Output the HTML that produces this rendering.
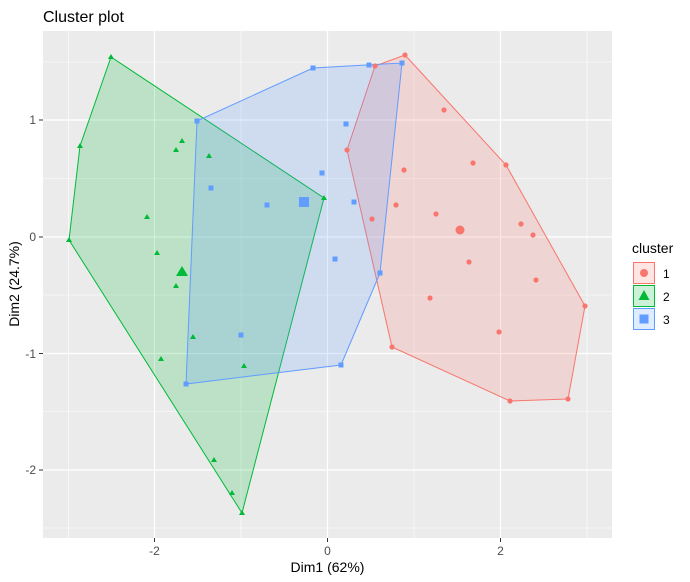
<!DOCTYPE html>
<html><head><meta charset="utf-8"><style>body{margin:0;background:#fff}svg{display:block;font-family:"Liberation Sans",Arial,sans-serif}</style></head><body>
<svg width="690" height="582" viewBox="0 0 690 582">
<rect width="690" height="582" fill="#fff"/>
<text x="43" y="22" font-size="16" fill="#000">Cluster plot</text>
<rect x="43" y="31" width="569" height="507" fill="#EBEBEB"/>
<g stroke="#fff" stroke-width="0.6">
<line x1="68.5" x2="68.5" y1="31" y2="538"/><line x1="241" x2="241" y1="31" y2="538"/><line x1="414" x2="414" y1="31" y2="538"/><line x1="587" x2="587" y1="31" y2="538"/>
<line x1="43" x2="612" y1="62" y2="62"/><line x1="43" x2="612" y1="178.5" y2="178.5"/><line x1="43" x2="612" y1="295" y2="295"/><line x1="43" x2="612" y1="411.5" y2="411.5"/><line x1="43" x2="612" y1="528" y2="528"/>
</g>
<g stroke="#fff" stroke-width="1.2">
<line x1="154.5" x2="154.5" y1="31" y2="538"/><line x1="327.5" x2="327.5" y1="31" y2="538"/><line x1="500.5" x2="500.5" y1="31" y2="538"/>
<line x1="43" x2="612" y1="120" y2="120"/><line x1="43" x2="612" y1="237" y2="237"/><line x1="43" x2="612" y1="353.5" y2="353.5"/><line x1="43" x2="612" y1="470" y2="470"/>
</g>
<polygon points="347,150 375,66 405,55 506,165 585,306 568,399 510,401 392,347" fill="#F8766D" fill-opacity="0.2" stroke="#F8766D"/>
<polygon points="111,57 80,146 69,240 242,513 324,198" fill="#00BA38" fill-opacity="0.2" stroke="#00BA38"/>
<polygon points="197,121 313,68 402,63 380,273 341,365 186,384" fill="#619CFF" fill-opacity="0.2" stroke="#619CFF"/>
<g fill="#F8766D">
<circle cx="375" cy="66" r="2.6"/><circle cx="405" cy="55" r="2.6"/><circle cx="444" cy="110" r="2.6"/><circle cx="473" cy="163" r="2.6"/><circle cx="506" cy="165" r="2.6"/><circle cx="436" cy="214" r="2.6"/><circle cx="404" cy="170" r="2.6"/><circle cx="396" cy="205" r="2.6"/><circle cx="372" cy="219" r="2.6"/><circle cx="521" cy="224" r="2.6"/><circle cx="533" cy="235" r="2.6"/><circle cx="469" cy="262" r="2.6"/><circle cx="430" cy="298" r="2.6"/><circle cx="499" cy="332" r="2.6"/><circle cx="536" cy="280" r="2.6"/><circle cx="392" cy="347" r="2.6"/><circle cx="510" cy="401" r="2.6"/><circle cx="568" cy="399" r="2.6"/><circle cx="585" cy="306" r="2.6"/><circle cx="347" cy="150" r="2.6"/><circle cx="460" cy="230" r="4.5"/>
</g>
<g fill="#00BA38">
<path d="M111,54l3,5h-6z M80,143l3,5h-6z M69,237l3,5h-6z M242,510l3,5h-6z M324,195l3,5h-6z M182,138l3,5h-6z M176,147l3,5h-6z M209,153l3,5h-6z M147,214l3,5h-6z M157,250l3,5h-6z M176,283l3,5h-6z M193,334l3,5h-6z M161,356l3,5h-6z M244,363l3,5h-6z M214,457l3,5h-6z M232,490l3,5h-6z M182,266l6,10h-12z"/>
</g>
<g fill="#619CFF">
<rect x="194.5" y="118.5" width="5" height="5"/><rect x="310.5" y="65.5" width="5" height="5"/><rect x="399.5" y="60.5" width="5" height="5"/><rect x="377.5" y="270.5" width="5" height="5"/><rect x="338.5" y="362.5" width="5" height="5"/><rect x="183.5" y="381.5" width="5" height="5"/><rect x="366.5" y="62.5" width="5" height="5"/><rect x="343.5" y="121.5" width="5" height="5"/><rect x="319.5" y="170.5" width="5" height="5"/><rect x="351.5" y="199.5" width="5" height="5"/><rect x="208.5" y="185.5" width="5" height="5"/><rect x="264.5" y="202.5" width="5" height="5"/><rect x="332.5" y="256.5" width="5" height="5"/><rect x="238.5" y="332.5" width="5" height="5"/><rect x="299" y="197" width="10" height="10"/>
</g>
<g stroke="#333" stroke-width="1">
<line x1="154.5" x2="154.5" y1="538" y2="542"/><line x1="327.5" x2="327.5" y1="538" y2="542"/><line x1="500.5" x2="500.5" y1="538" y2="542"/>
<line x1="39" x2="43" y1="120" y2="120"/><line x1="39" x2="43" y1="237" y2="237"/><line x1="39" x2="43" y1="353.5" y2="353.5"/><line x1="39" x2="43" y1="470" y2="470"/>
</g>
<g font-size="12" fill="#4D4D4D" text-anchor="middle">
<text x="154.5" y="555">-2</text><text x="327.5" y="555">0</text><text x="500.5" y="555">2</text>
</g>
<g font-size="12" fill="#4D4D4D" text-anchor="end">
<text x="36" y="124">1</text><text x="36" y="241">0</text><text x="36" y="358">-1</text><text x="36" y="474">-2</text>
</g>
<text x="327.5" y="572" font-size="14" text-anchor="middle" fill="#000">Dim1 (62%)</text>
<text transform="translate(19,284) rotate(-90)" font-size="14" text-anchor="middle" fill="#000">Dim2 (24.7%)</text>
<text x="632" y="253" font-size="14" fill="#000">cluster</text>
<rect x="633.5" y="262.5" width="21" height="21" fill="#F8766D" fill-opacity="0.2" stroke="#F8766D"/>
<circle cx="644" cy="273" r="4" fill="#F8766D"/>
<rect x="633.5" y="285.5" width="21" height="21" fill="#00BA38" fill-opacity="0.2" stroke="#00BA38"/>
<path d="M644,290l5.5,10h-11z" fill="#00BA38"/>
<rect x="633.5" y="308.5" width="21" height="21" fill="#619CFF" fill-opacity="0.2" stroke="#619CFF"/>
<rect x="639.5" y="314.5" width="9" height="9" fill="#619CFF"/>
<g font-size="12" fill="#000"><text x="663" y="278">1</text><text x="663" y="301">2</text><text x="663" y="324">3</text></g>
</svg>
</body></html>
